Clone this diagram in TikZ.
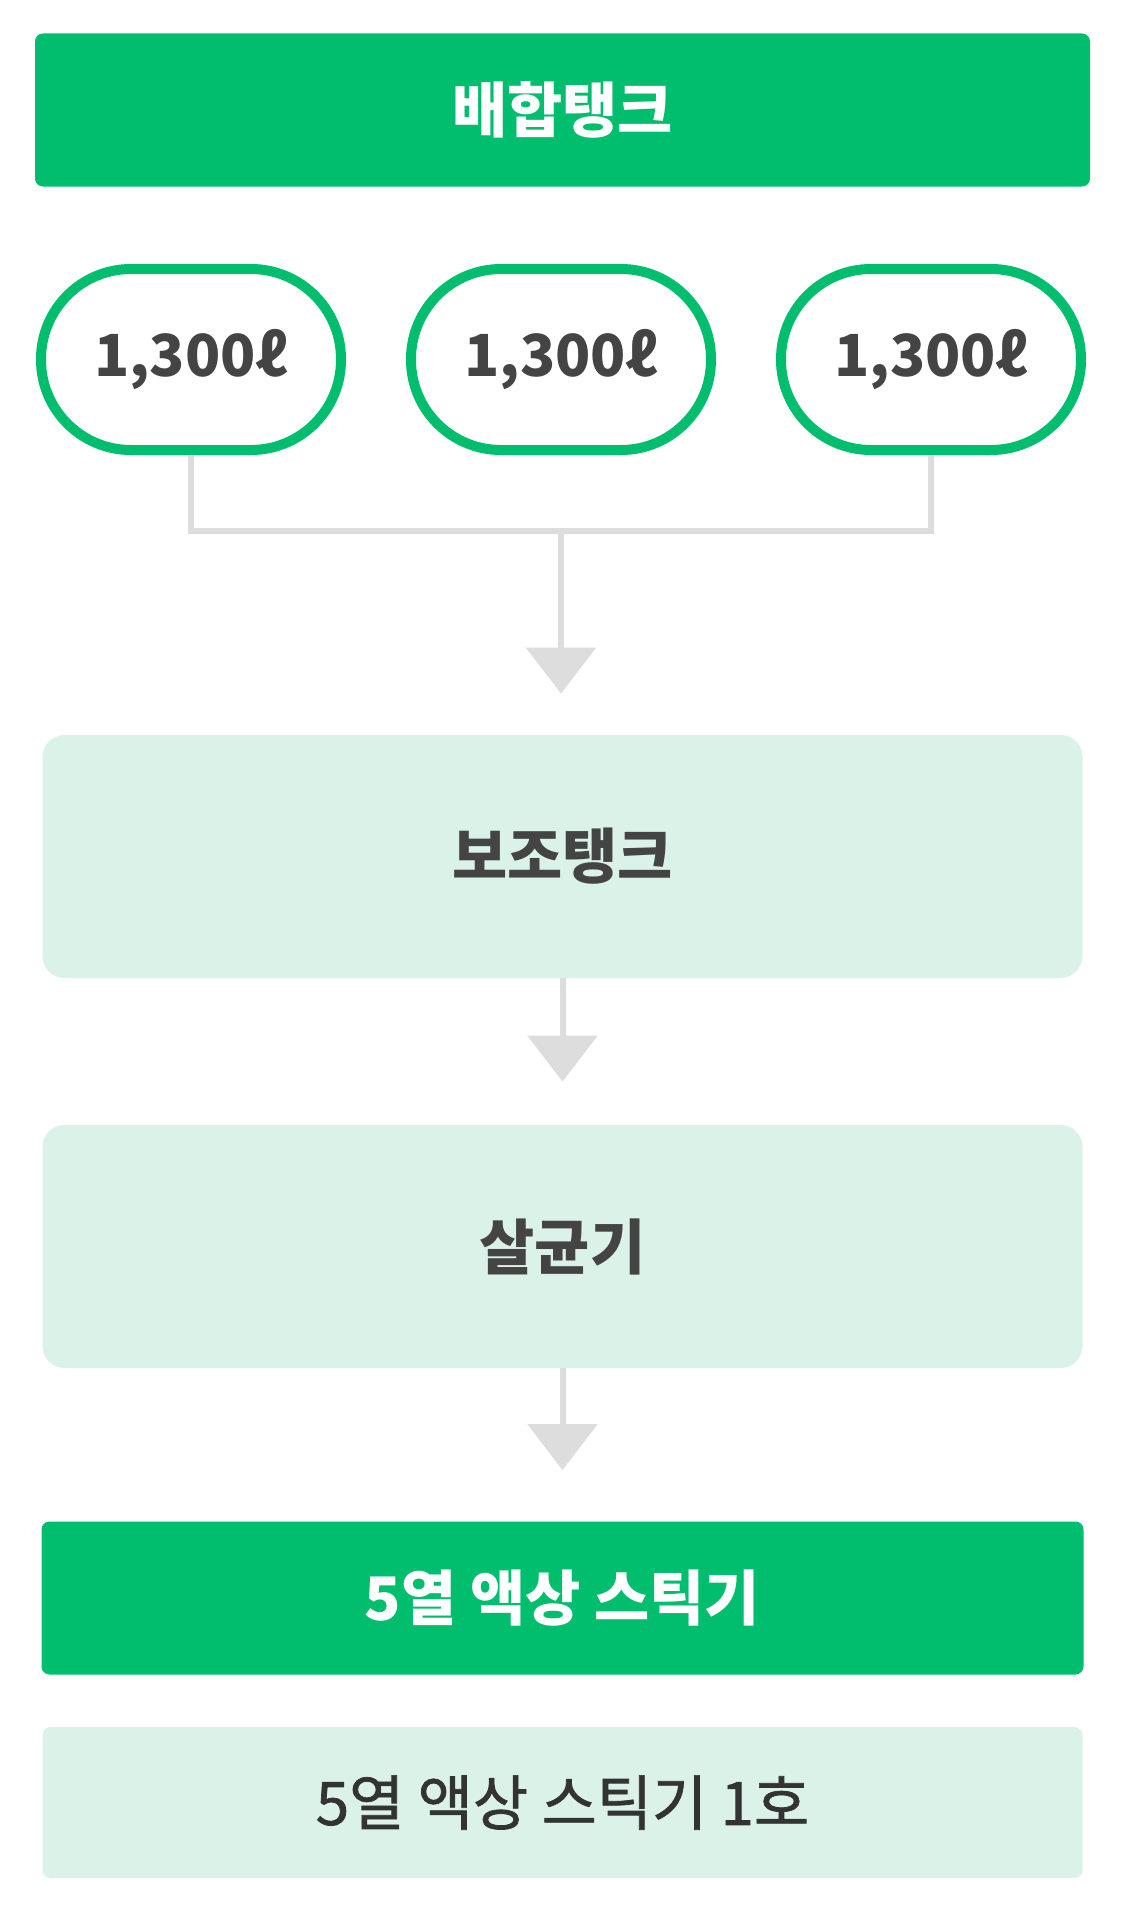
\documentclass[tikz,border=0pt]{standalone}
\usepackage{fontspec}
\newfontfamily\kr{Noto Sans CJK KR}
\newfontfamily\krmed[FakeBold=1.2]{Noto Sans CJK KR}
\usepackage{tikz}
\usetikzlibrary{positioning,arrows.meta}
\definecolor{brandgreen}{HTML}{00BE6E}
\definecolor{mint}{HTML}{DBF2E8}
\definecolor{linegray}{HTML}{DDDDDD}
\definecolor{darktext}{HTML}{444444}
\definecolor{softtext}{HTML}{333333}
\newcommand{\boxfont}{\kr\bfseries\fontsize{30pt}{30pt}\selectfont}
\newcommand{\tankfont}{\kr\bfseries\fontsize{29pt}{29pt}\selectfont}

\begin{document}
\begin{tikzpicture}[x=0.5pt, y=-0.5pt,
		every node/.style={align=center,
			inner sep=0pt,
		},
		greenbox/.style={fill=brandgreen, rounded corners=4pt,
			minimum width=521pt, minimum height=76.5pt,
			text=white, font=\boxfont},
		mintbox/.style={fill=mint, rounded corners=11pt,
			minimum width=520pt, minimum height=121.5pt,
			text=darktext, font=\boxfont},
		tank/.style={draw=brandgreen, line width=5pt, fill=white,
			rounded corners=45pt, minimum width=150pt, minimum height=90.5pt,
			text=darktext, font=\tankfont},
		link/.style={draw=linegray, line width=3pt, line join=miter},
		flow/.style={link, -{Triangle[width=34.5pt,length=23pt]}},
		]
		\useasboundingbox (0,0) rectangle (1125,1916);

		\node (mix) [greenbox, minimum width=527.5pt] at (562.5,110) {배합탱크};
		\node (tankB) [tank] at (561,359.5) {1,300ℓ};
		\node (tankA) [tank, left=30pt of tankB] {1,300ℓ};
		\node (tankC) [tank, right=30pt of tankB] {1,300ℓ};
		\node (aux) [mintbox] at (562.5,856.5) {보조탱크};
		\node (steril) [mintbox] at (562.5,1246.5) {살균기};
		\node (stick) [greenbox] at (562.5,1598) {5열 액상 스틱기};
		\node (stickone) [mintbox, rounded corners=4pt, minimum height=75.5pt,
			font=\krmed\fontsize{30pt}{30pt}\selectfont, text=softtext] at (562.5,1802.5) {5열 액상 스틱기 1호};

		\coordinate (join) at ([yshift=-38pt]tankB.south);
		\draw[link] (tankA.south) |- (join) -| (tankC.south);
		\draw[flow, shorten >=20.5pt] (join) -- (join |- aux.north);
		\draw[flow, shorten >=21.5pt] (aux) -- (steril);
		\draw[flow, shorten >=25.5pt] (steril) -- (stick);

	\end{tikzpicture}
\end{document}
